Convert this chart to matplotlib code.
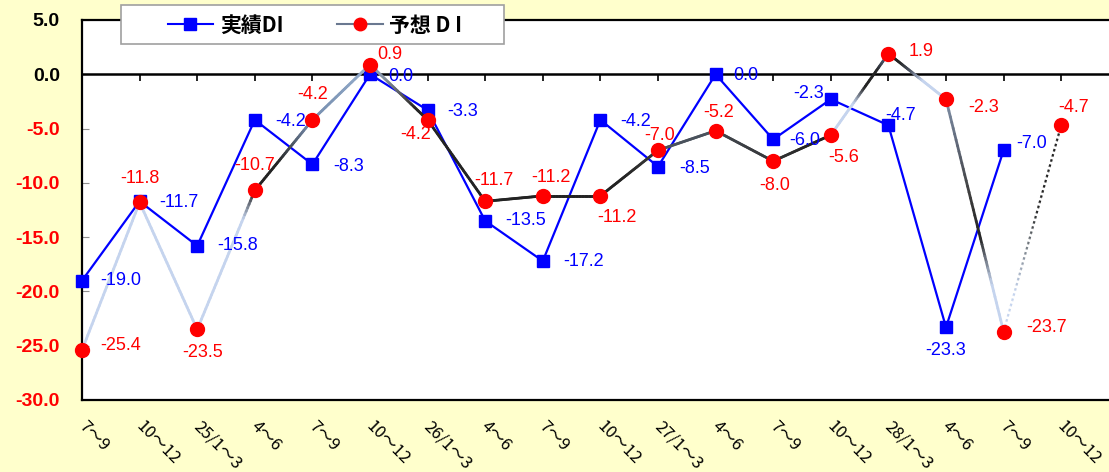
import numpy as np
import matplotlib.pyplot as plt
import matplotlib.transforms as mtransforms
from matplotlib.collections import LineCollection
from matplotlib.colors import to_rgb
from matplotlib.patches import Rectangle
from matplotlib.lines import Line2D

# データ
quarters = ['7〜9', '10〜12', '25/1〜3', '4〜6', '7〜9', '10〜12', '26/1〜3', '4〜6', '7〜9',
            '10〜12', '27/1〜3', '4〜6', '7〜9', '10〜12', '28/1〜3', '4〜6', '7〜9', '10〜12']
actual_di = [-19.0, -11.7, -15.8, -4.2, -8.3, 0.0, -3.3, -13.5, -17.2,
             -4.2, -8.5, 0.0, -6.0, -2.3, -4.7, -23.3, -7.0]
forecast_di = [-25.4, -11.8, -23.5, -10.7, -4.2, 0.9, -4.2, -11.7, -11.2,
               -11.2, -7.0, -5.2, -8.0, -5.6, 1.9, -2.3, -23.7, -4.7]

# ラベル位置 (dx, dy [px], ha)
actual_lbl = [(18, 0, 'left'), (20, -1, 'left'), (20, 0, 'left'), (20, -2, 'left'), (21, -2, 'left'),
              (18, -2, 'left'), (20, -1, 'left'), (20, 0, 'left'), (20, 0, 'left'), (20, -2, 'left'),
              (21, -2, 'left'), (18, -1, 'left'), (16, -1, 'left'), (-7, 6, 'right'), (-3, 10, 'left'),
              (0, -23, 'center'), (13, 7, 'left')]
forecast_lbl = [(18, 5, 'left'), (0, 24, 'center'), (5, -23, 'center'), (0, 25, 'center'),
                (0, 25, 'center'), (7, 10, 'left'), (-12, -15, 'center'), (9, 21, 'center'),
                (8, 18, 'center'), (17, -22, 'center'), (2, 15, 'center'), (3, 18, 'center'),
                (1, -24, 'center'), (13, -22, 'center'), (20, 2, 'left'), (22, -8, 'left'),
                (23, 4, 'left'), (12, 18, 'center')]

# 予想DIの線のグラデーション (区間ごとに t=0, .2, .4, .6, .8, 1 の色)
L = '#c5d4ee'
D = '#232323'
GB = '#7890b0'
grad = [(L,) * 6, (L,) * 6, (L, L, L, L, L, D),
        (D, D, D, '#404850', '#607088', GB),
        (GB, '#7c94b4', '#8098b8', '#88a0c0', '#90a8c8', '#98aecc'),
        ('#90a0b8', '#8898b0', '#707880', '#505050', D, D),
        (D,) * 6, (D,) * 6, (D,) * 6, (D, D, D, '#2c2c2c', '#333333', '#3a3a3a'),
        ('#4a525c',) * 6, ('#444a52', '#404448', '#3e4248', '#3a3c40', '#383a3e', '#333333'),
        ('#333333', '#303030', '#2c2c2c', D, D, D),
        (L, L, L, D, D, '#607090'), (D, D, '#505868', L, L, L),
        ('#8090a8', '#606878', '#404040', D, L, L),
        (L, L, '#808890', D, D, D)]

plt.rcParams['font.family'] = ['Liberation Sans', 'DejaVu Sans']
BG = '#ffffcc'
BLUE = '#0000ff'
RED = '#ff0000'
CJK = ['Noto Sans CJK JP', 'DejaVu Sans']

fig = plt.figure(figsize=(11.09, 4.72), dpi=100, facecolor=BG)
ax = fig.add_axes([82 / 1109, 1 - 400 / 472, 1 - 82 / 1109, 380 / 472])
ax.set_facecolor('white')

x = np.arange(len(quarters))
xa = np.arange(len(actual_di))

# 実績DI
ax.plot(xa, actual_di, color=BLUE, lw=1.6, marker='s', ms=8.5, mec=BLUE, mfc=BLUE,
        zorder=3, clip_on=False)

# 予想DI (グラデーション線)
n = 40
stops = np.linspace(0, 1, 6)
for i in range(len(forecast_di) - 1):
    cols = np.array([to_rgb(c) for c in grad[i]])
    t = np.linspace(0, 1, n + 1)
    xs = x[i] + (x[i + 1] - x[i]) * t
    ys = forecast_di[i] + (forecast_di[i + 1] - forecast_di[i]) * t
    tm = (t[:-1] + t[1:]) / 2
    rgb = np.column_stack([np.interp(tm, stops, cols[:, k]) for k in range(3)])
    segs = np.stack([np.column_stack([xs[:-1], ys[:-1]]), np.column_stack([xs[1:], ys[1:]])], axis=1)
    if i == len(forecast_di) - 2:
        lc = LineCollection(segs, colors=rgb, linewidths=1.6, zorder=4, linestyles=(0, (1, 1.2)))
    else:
        lc = LineCollection(segs, colors=rgb, linewidths=2.0, zorder=4, capstyle='round')
    ax.add_collection(lc)
ax.plot(x, forecast_di, ls='none', marker='o', ms=10, color=RED, zorder=5, clip_on=False)

# データラベル
for i, v in enumerate(actual_di):
    dx, dy, ha = actual_lbl[i]
    ax.annotate(f'{v:.1f}', (xa[i], v), xytext=(dx, dy), textcoords='offset pixels',
                ha=ha, va='center', color=BLUE, fontsize=13, zorder=6)
for i, v in enumerate(forecast_di):
    dx, dy, ha = forecast_lbl[i]
    ax.annotate(f'{v:.1f}', (x[i], v), xytext=(dx, dy), textcoords='offset pixels',
                ha=ha, va='center', color=RED, fontsize=13, zorder=6)

# 軸
ymin, ymax = -30, 5
yt = np.arange(ymin, ymax + 0.1, 5)
ax.set_ylim(ymin, ymax)
ax.set_xlim(0, 17.83)
ax.set_yticks(yt)
ax.set_yticklabels([f'{t:.1f}' for t in yt])
for lab, t in zip(ax.get_yticklabels(), yt):
    lab.set_color('black' if t >= 0 else RED)
    lab.set_fontweight('bold')
    lab.set_fontsize(14)
ax.tick_params(axis='y', direction='in', length=5, color='#909090', pad=16)

ax.set_xticks(x)
ax.set_xticklabels(quarters, fontsize=12, family=CJK)
ax.tick_params(axis='x', length=0, pad=13)
offset = mtransforms.ScaledTranslation(5 / 100, 0, fig.dpi_scale_trans)
for lab in ax.get_xticklabels():
    lab.set_rotation(-45)
    lab.set_ha('left')
    lab.set_va('top')
    lab.set_rotation_mode('anchor')
    lab.set_transform(lab.get_transform() + offset)

for s in ['left', 'bottom', 'top']:
    ax.spines[s].set_linewidth(1.6)
    ax.spines[s].set_color('black')
ax.spines['right'].set_visible(False)

# ゼロ線と目盛り
ax.axhline(0, color='black', lw=1.8, zorder=2)
zero = ax.secondary_xaxis((0 - ymin) / (ymax - ymin))
zero.set_xticks(x[1:])
zero.set_xticklabels([])
zero.tick_params(direction='in', length=5, width=1.2, color='black')
for s in zero.spines.values():
    s.set_visible(False)

# 凡例
fig.patches.append(Rectangle((121 / 1109, 1 - 44 / 472), 383 / 1109, 39 / 472,
                             transform=fig.transFigure, facecolor='white',
                             edgecolor='#a0a0a0', lw=1.2, zorder=8))
handles = [Line2D([], [], color=BLUE, lw=1.5, marker='s', ms=8, mfc=BLUE, mec=BLUE),
           Line2D([], [], color='#6a7890', lw=1.5, marker='o', ms=9, mfc=RED, mec=RED)]
leg = fig.legend(handles, ['実績DI', '予想 D I'], loc='center',
                 bbox_to_anchor=(315 / 1109, 1 - 25 / 472), ncol=2, frameon=False,
                 handlelength=2.2, handletextpad=0.3, columnspacing=2.6,
                 prop={'family': CJK, 'weight': 'bold', 'size': 15})
leg.set_zorder(9)

fig.savefig('out.png', dpi=100, facecolor=BG)
